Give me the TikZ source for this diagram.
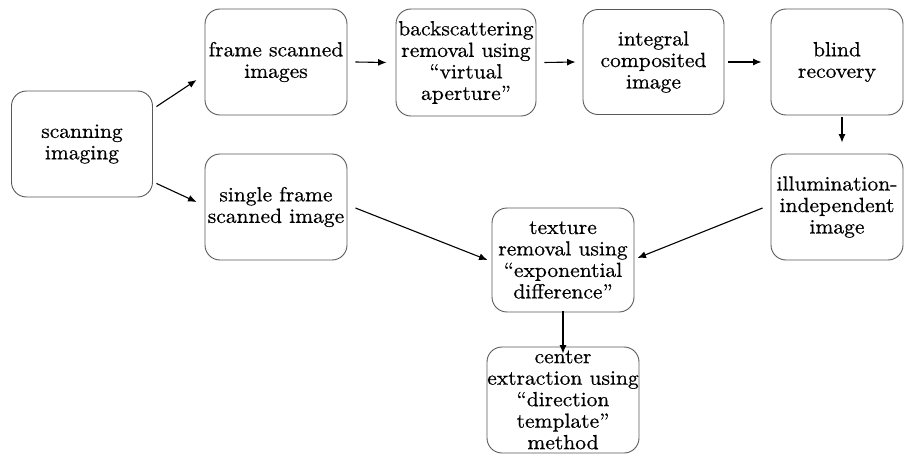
\documentclass[tikz,border=0pt]{standalone}
\usepackage{fontspec}
\setmainfont{lmroman10-regular.otf}[FakeStretch=1.05, FakeBold=0.6]
\usetikzlibrary{arrows.meta}
\begin{document}
\begin{tikzpicture}[x=1pt,y=-1pt,
  box/.style={draw=black!65, line width=0.9pt, rounded corners=15pt, align=center,
    inner sep=0pt, font=\fontsize{20.5}{21.5}\selectfont},
  arr/.style={line width=1.1pt, -{Latex[length=8.5pt,width=7pt]}}]
\useasboundingbox (0,0) rectangle (906,455);
\node[box, minimum width=141pt, minimum height=106pt] (scan) at (82,144) {scanning\\imaging};
\node[box, minimum width=142pt, minimum height=106pt] (frame) at (276,62) {frame scanned\\images};
\node[box, minimum width=140pt, minimum height=107pt] (back) at (466,62.5) {backscattering\\removal using\\``virtual\\aperture''};
\node[box, minimum width=141pt, minimum height=105pt] (integ) at (653.5,62) {integral\\composited\\image};
\node[box, minimum width=132pt, minimum height=106pt] (blind) at (837,62) {blind\\recovery};
\node[box, minimum width=142pt, minimum height=106pt] (single) at (276,207) {single frame\\scanned image};
\node[box, minimum width=132pt, minimum height=106pt] (illum) at (837,207) {illumination-\\independent\\image};
\node[box, minimum width=142pt, minimum height=104pt] (tex) at (563,260) {texture\\removal using\\``exponential\\difference''};
\node[box, minimum width=152pt, minimum height=106pt] (cen) at (563,400) {center\\extraction using\\``direction\\template''\\method};
\draw[arr] ([shift={(3.5,16)}]scan.north east) -- ([shift={(-8,18)}]frame.west);
\draw[arr] ([shift={(3.5,-14)}]scan.south east) -- ([shift={(-8,-5)}]single.west);
\draw[arr] ([xshift=8pt]frame.east) -- ([xshift=-9pt]back.west);
\draw[arr] ([xshift=8pt]back.east) -- ([xshift=-7pt]integ.west);
\draw[arr] ([xshift=4pt]integ.east) -- ([xshift=-9pt]blind.west);
\draw[arr] ([shift={(5,2)}]blind.south) -- ([shift={(5,-11)}]illum.north);
\draw[arr] ([shift={(8,1)}]single.east) -- ([xshift=-4pt]tex.west);
\draw[arr] ([shift={(-8,1)}]illum.west) -- ([shift={(3,-2)}]tex.east);
\draw[arr] ([yshift=1pt]tex.south) -- ([yshift=-7pt]cen.north);
\end{tikzpicture}
\end{document}
